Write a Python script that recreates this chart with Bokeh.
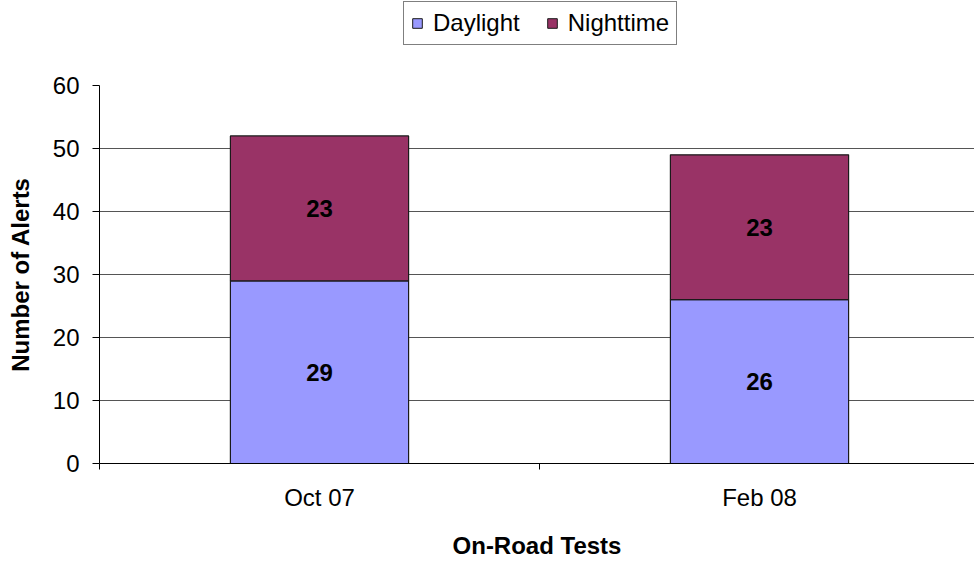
from bokeh.plotting import figure
from bokeh.layouts import column
from bokeh.models import ColumnDataSource, Range1d, FixedTicker, Legend, LegendItem
from bokeh.core.properties import value
from bokeh.embed import file_html
from bokeh.resources import INLINE

categories = ["Oct 07", "Feb 08"]
series_names = ["Daylight", "Nighttime"]
series_colors = ["#9999FF", "#993366"]
daylight = [29, 26]
nighttime = [23, 23]
y_ticks = [0, 10, 20, 30, 40, 50, 60]

FONT = "Liberation Sans"

xs = [i + 0.5 for i in range(len(categories))]
src = ColumnDataSource(dict(
    x=xs,
    day=daylight,
    night=nighttime,
    top=[d + n for d, n in zip(daylight, nighttime)],
    day_lbl=[str(v) for v in daylight],
    night_lbl=[str(v) for v in nighttime],
    day_mid=[d / 2 for d in daylight],
    night_mid=[d + n / 2 for d, n in zip(daylight, nighttime)],
))

# ---- legend strip (top) ----
TOP_H = 71
FRAME_LEFT = 99
lg = figure(width=974, height=TOP_H, output_backend="svg", toolbar_location=None,
            x_axis_type=None, y_axis_type=None, x_range=Range1d(0, 1), y_range=Range1d(0, 1),
            min_border=0)
lg.outline_line_color = None
lg.grid.visible = False
# legend-only renderers, their data lie outside the visible range
lg_src = ColumnDataSource(dict(x=[10], top=[10]))
items = []
for name, col in zip(series_names, series_colors):
    r = lg.vbar(x="x", bottom=9, top="top", width=0.5, source=lg_src,
                fill_color=col, line_color="#1a1a1a", line_width=1)
    items.append(LegendItem(label=name, renderers=[r]))
legend = Legend(items=items, orientation="horizontal", location=(403 - FRAME_LEFT, TOP_H - 45))
legend.label_text_font = FONT
legend.label_text_font_size = "24px"
legend.label_text_color = "black"
legend.glyph_width = 12
legend.glyph_height = 12
legend.label_standoff = 10
legend.spacing = 26
legend.padding = 7
legend.margin = 0
legend.border_line_color = "black"
legend.border_line_width = 1
legend.background_fill_color = "white"
legend.background_fill_alpha = 1
lg.add_layout(legend, "center")

# ---- main chart ----
p = figure(width=974, height=561 - TOP_H, output_backend="svg", toolbar_location=None,
           x_range=Range1d(0, 875 / 440), y_range=Range1d(0, 60),
           min_border_left=FRAME_LEFT, min_border_right=0, min_border_top=85 - TOP_H, min_border_bottom=94)
p.outline_line_color = None
p.background_fill_color = "white"
p.border_fill_color = "white"

p.vbar(x="x", bottom=0, top="day", width=0.405, source=src,
       fill_color=series_colors[0], line_color="#1a1a1a", line_width=1.2)
p.vbar(x="x", bottom="day", top="top", width=0.405, source=src,
       fill_color=series_colors[1], line_color="#1a1a1a", line_width=1.2)

for ycol, tcol in (("day_mid", "day_lbl"), ("night_mid", "night_lbl")):
    p.text(x="x", y=ycol, text=tcol, source=src, text_align="center", text_baseline="middle",
           text_font=value(FONT), text_font_size="24px", text_font_style="bold", text_color="black")

p.xaxis.ticker = FixedTicker(ticks=xs, minor_ticks=[0, 1, 2])
p.xaxis.major_label_overrides = {x: c for x, c in zip(xs, categories)}
p.xaxis.major_tick_out = 0
p.xaxis.major_tick_in = 0
p.xaxis.minor_tick_out = 6
p.xaxis.minor_tick_in = 0
p.xaxis.minor_tick_line_color = "black"
p.xaxis.axis_line_color = "black"
p.xaxis.major_label_standoff = 14
p.xaxis.major_label_text_font = FONT
p.xaxis.major_label_text_font_size = "24px"
p.xaxis.major_label_text_color = "black"
p.xaxis.axis_label = "On-Road Tests"
p.xaxis.axis_label_text_font = FONT
p.xaxis.axis_label_text_font_size = "24px"
p.xaxis.axis_label_text_font_style = "bold"
p.xaxis.axis_label_text_color = "black"
p.xaxis.axis_label_standoff = 18
p.xgrid.visible = False

p.yaxis.ticker = FixedTicker(ticks=y_ticks)
p.yaxis.minor_tick_line_color = None
p.yaxis.major_tick_out = 7
p.yaxis.major_tick_in = 0
p.yaxis.major_tick_line_color = "black"
p.yaxis.axis_line_color = "black"
p.yaxis.major_label_text_font = FONT
p.yaxis.major_label_text_font_size = "24px"
p.yaxis.major_label_text_color = "black"
p.yaxis.major_label_standoff = 13
p.yaxis.axis_label = "Number of Alerts"
p.yaxis.axis_label_text_font = FONT
p.yaxis.axis_label_text_font_size = "24px"
p.yaxis.axis_label_text_font_style = "bold"
p.yaxis.axis_label_text_color = "black"
p.yaxis.axis_label_standoff = 16
p.ygrid.grid_line_color = "#555555"
p.ygrid.grid_line_width = 1

layout = column(lg, p, spacing=0)
open("out.html", "w").write(file_html(layout, INLINE))
